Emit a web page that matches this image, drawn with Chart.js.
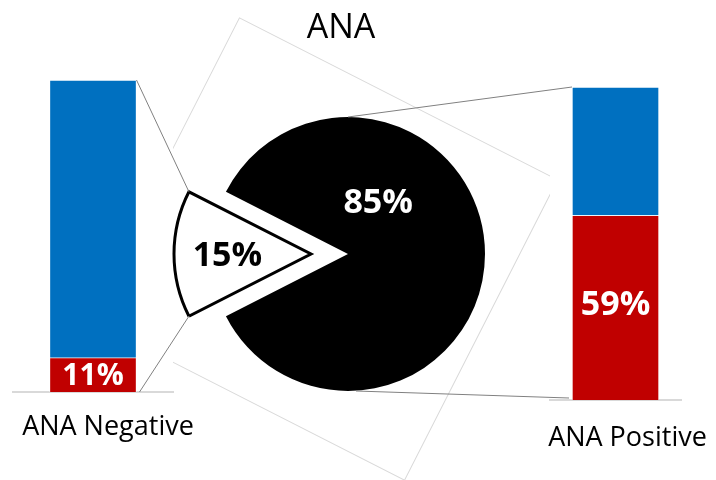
<!DOCTYPE html>
<html>
<head>
<meta charset="utf-8">
<script src="https://cdn.jsdelivr.net/npm/chart.js@4.4.1/dist/chart.umd.min.js"></script>
<style>
  body { margin: 0; background: #fff; }
  #wrap { position: relative; width: 716px; height: 480px; overflow: hidden; background: #fff; }
  #wrap canvas { position: absolute; left: 0; top: 0; }
  #title { position: absolute; left: 241px; top: 8px; width: 200px; text-align: center;
           font: 34px "Open Sans", sans-serif; line-height: 1; color: #000; }
</style>
</head>
<body>
<div id="wrap">
  <canvas id="negChart" width="716" height="480"></canvas>
  <canvas id="posChart" width="716" height="480"></canvas>
  <canvas id="pieChart" width="716" height="480"></canvas>
  <div id="title">ANA</div>
</div>
<script>
// pie: share of ANA results
var pieLabels = ['ANA Positive', 'ANA Negative'];
var pieValues = [85, 15];

// bars: split inside each ANA group (red part at the bottom, blue on top)
var negLabels = ['ANA Negative'];
var negRed = [11];
var negBlue = [89];

var posLabels = ['ANA Positive'];
var posRed = [59];
var posBlue = [41];

var RED = '#C00000';
var BLUE = '#0070C0';
var FONT = '"Open Sans", sans-serif';

// writes "NN%" in the middle of the red segment
var segLabel = {
    id: 'segLabel',
    afterDatasetsDraw: function (chart, args, opts) {
        var bar = chart.getDatasetMeta(0).data[0];
        var value = chart.data.datasets[0].data[0];
        var ctx = chart.ctx;
        ctx.save();
        ctx.fillStyle = '#fff';
        ctx.font = 'bold ' + opts.size + 'px ' + FONT;
        ctx.textAlign = 'center';
        ctx.textBaseline = 'middle';
        ctx.fillText(value + '%', bar.x, (bar.y + bar.base) / 2 + 2 + (opts.dy || 0));
        ctx.restore();
    }
};

function barChart(id, labels, red, blue, pad, tickPad, labelOffset, labelSize, dy) {
    return new Chart(document.getElementById(id), {
        type: 'bar',
        data: {
            labels: labels,
            datasets: [
                { label: 'Red', data: red, backgroundColor: RED },
                { label: 'Blue', data: blue, backgroundColor: BLUE }
            ]
        },
        options: {
            responsive: false,
            animation: false,
            events: [],
            layout: { padding: pad },
            datasets: {
                bar: {
                    barThickness: 87,
                    borderWidth: 1,
                    borderColor: 'rgba(255,255,255,0.55)'
                }
            },
            plugins: {
                legend: { display: false },
                tooltip: { enabled: false },
                segLabel: { size: labelSize, dy: dy }
            },
            scales: {
                x: {
                    stacked: true,
                    grid: { display: false, drawTicks: false },
                    border: { color: '#d9d9d9', width: 2 },
                    ticks: {
                        color: '#000',
                        padding: tickPad,
                        labelOffset: labelOffset,
                        font: { family: FONT, size: 27 }
                    },
                    afterFit: function (s) { s.paddingLeft = 0; s.paddingRight = 0; }
                },
                y: { stacked: true, display: false, min: 0, max: 100 }
            }
        },
        plugins: [segLabel]
    });
}

var negChart = barChart('negChart', negLabels, negRed, negBlue,
    { left: 13, right: 543, top: 80, bottom: 17.4 }, 19.1, 15, 30, 0);
var posChart = barChart('posChart', posLabels, posRed, posBlue,
    { left: 550, right: 35, top: 87, bottom: 3.4 }, 22.1, 12, 34, -4);

// pull the small slice out of the pie (px along its middle angle)
var EXPLODE = 37;

// frame, connector lines and slice labels for the pie
var pieDecor = {
    id: 'pieDecor',
    afterDatasetsUpdate: function (chart) {
        var small = chart.getDatasetMeta(0).data[1];
        var mid = (small.startAngle + small.endAngle) / 2;
        small.x += Math.cos(mid) * EXPLODE;
        small.y += Math.sin(mid) * EXPLODE;
    },
    beforeDatasetsDraw: function (chart) {
        var big = chart.getDatasetMeta(0).data[0];
        var ctx = chart.ctx;
        var a = (chart.options.rotation - 270) * Math.PI / 180;
        var l = negChart.chartArea.right, r = posChart.chartArea.left;
        ctx.save();
        ctx.beginPath();
        ctx.rect(l, 0, r - l, chart.height);
        ctx.clip();
        ctx.translate(big.x - 26, big.y - 5);
        ctx.rotate(a);
        ctx.strokeStyle = '#d9d9d9';
        ctx.lineWidth = 1;
        ctx.strokeRect(-178.5, -168.5, 357, 337);
        ctx.restore();
    },
    afterDraw: function (chart) {
        var ctx = chart.ctx;
        var arcs = chart.getDatasetMeta(0).data;
        var big = arcs[0], small = arcs[1];
        var mid = (small.startAngle + small.endAngle) / 2;
        var rr = small.outerRadius;

        var nBlue = negChart.getDatasetMeta(1).data[0];
        var nRed = negChart.getDatasetMeta(0).data[0];
        var pBlue = posChart.getDatasetMeta(1).data[0];
        var pRed = posChart.getDatasetMeta(0).data[0];

        var lines = [
            [nBlue.x + nBlue.width / 2, nBlue.y,
             small.x + Math.cos(small.endAngle) * rr, small.y + Math.sin(small.endAngle) * rr],
            [nRed.x + nRed.width / 2 + 3, nRed.base,
             small.x + Math.cos(small.startAngle) * rr, small.y + Math.sin(small.startAngle) * rr],
            [big.x, big.y - big.outerRadius, pBlue.x - pBlue.width / 2, pBlue.y],
            [big.x + 8, big.y + big.outerRadius, pRed.x - pRed.width / 2 - 3, pRed.base - 2]
        ];
        ctx.save();
        ctx.strokeStyle = '#808080';
        ctx.lineWidth = 1;
        lines.forEach(function (p) {
            ctx.beginPath();
            ctx.moveTo(p[0], p[1]);
            ctx.lineTo(p[2], p[3]);
            ctx.stroke();
        });

        // slice labels
        ctx.font = 'bold 34px ' + FONT;
        ctx.textAlign = 'center';
        ctx.textBaseline = 'middle';
        var v = chart.data.datasets[0].data;
        var ang = -Math.PI / 3;
        ctx.fillStyle = '#fff';
        ctx.fillText(v[0] + '%', big.x + Math.cos(ang) * big.outerRadius * 0.44,
            big.y + Math.sin(ang) * big.outerRadius * 0.44 + 2);
        ctx.fillStyle = '#000';
        ctx.fillText(v[1] + '%', small.x + Math.cos(mid) * rr * 0.61, small.y + Math.sin(mid) * rr * 0.61 + 2);
        ctx.restore();
    }
};

var pieChart = new Chart(document.getElementById('pieChart'), {
    type: 'pie',
    data: {
        labels: pieLabels,
        datasets: [{
            data: pieValues,
            backgroundColor: ['#000000', '#ffffff'],
            borderColor: '#000000',
            borderWidth: [0, 3],
            borderJoinStyle: 'miter',
            hoverOffset: 0
        }]
    },
    options: {
        responsive: false,
        animation: false,
        events: [],
        radius: 137,
        rotation: 297,
        layout: { padding: { left: 0, right: 20, top: 28, bottom: 0 } },
        plugins: {
            legend: { display: false },
            tooltip: { enabled: false }
        }
    },
    plugins: [pieDecor]
});
</script>
</body>
</html>
